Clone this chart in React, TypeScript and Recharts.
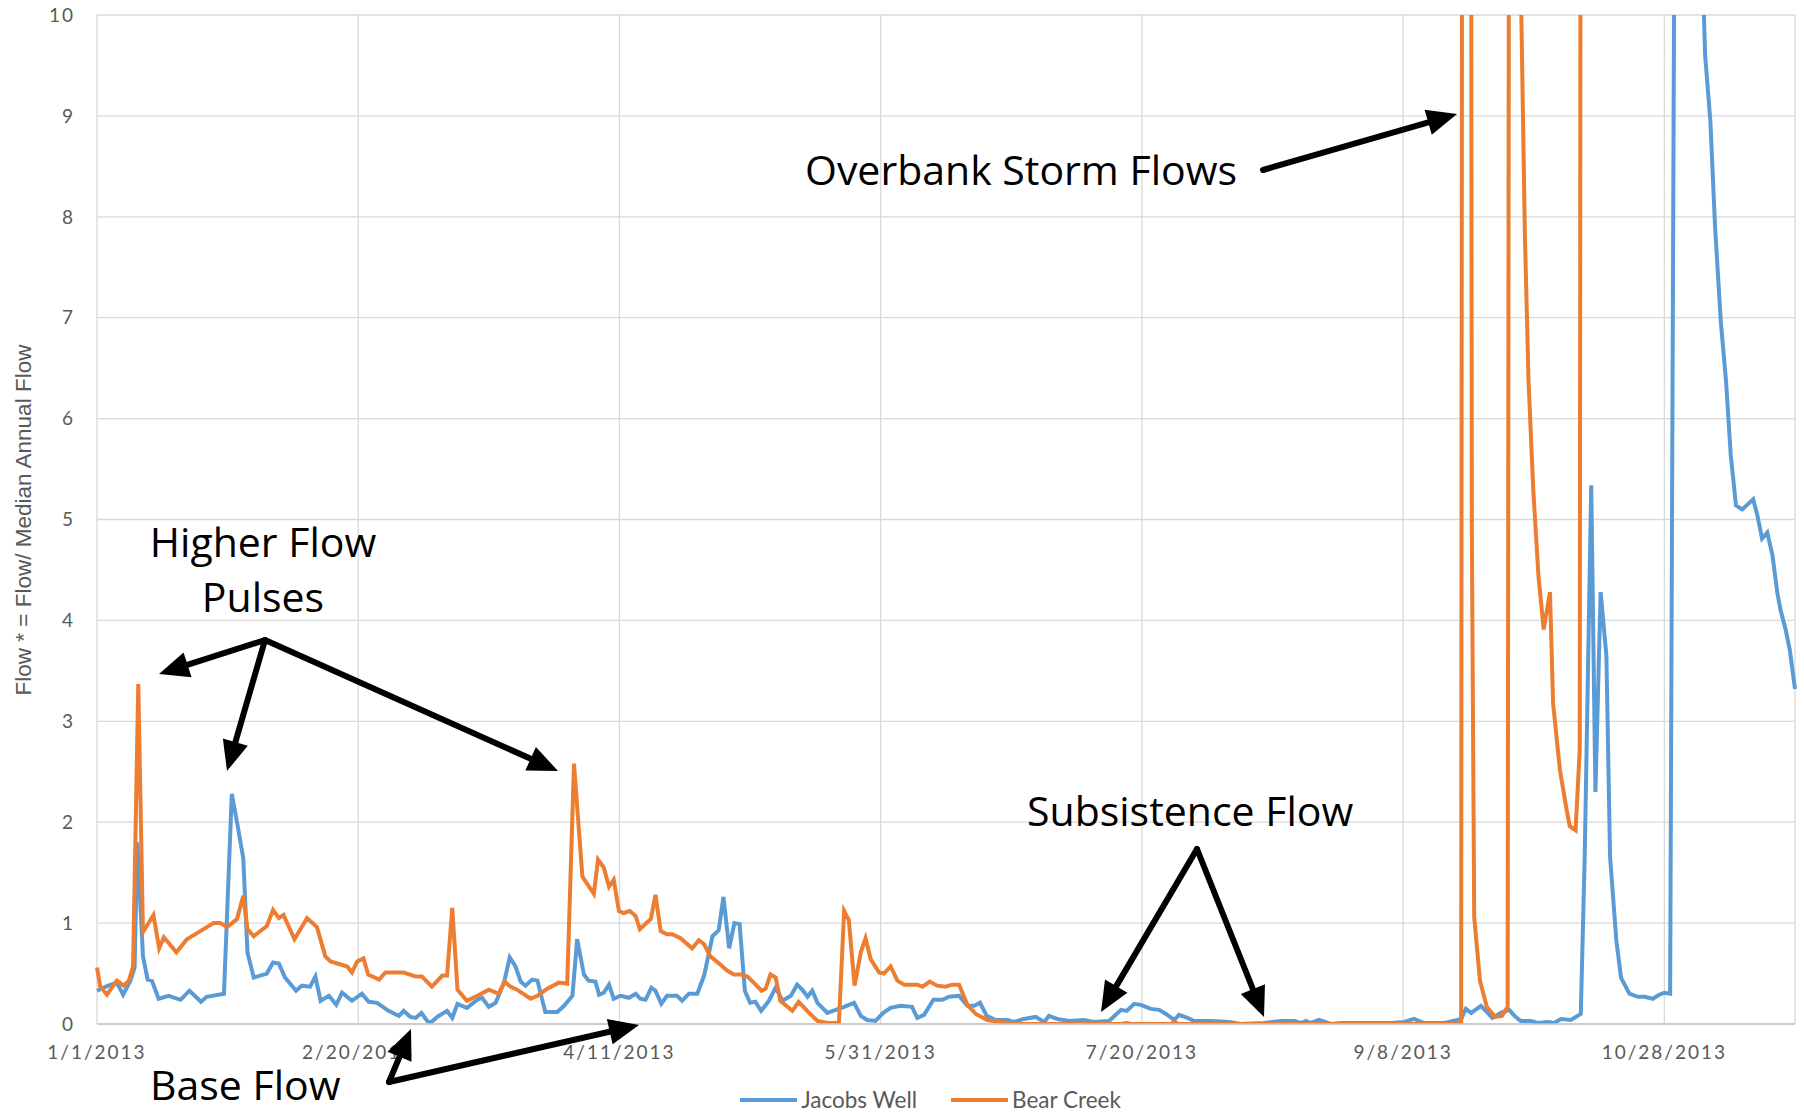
import React from "react";
import { CartesianGrid, Legend, Line, LineChart, XAxis, YAxis } from "recharts";

// Daily flow ratio (flow / median annual flow) for 2013, read off the
// original Excel chart. x is days since 1/1/2013.

const dayTicks = [0, 50, 100, 150, 200, 250, 300];
const dayTickLabels = ["1/1/2013", "2/20/2013", "4/11/2013", "5/31/2013", "7/20/2013", "9/8/2013", "10/28/2013"];
const flowTicks = [0, 1, 2, 3, 4, 5, 6, 7, 8, 9, 10];

const jacobsDays = [
    0, 1.9, 3.8, 5, 6.4, 7.2, 7.7, 8.8, 9.7, 10.5, 11.8, 13.7, 16, 17.7, 19.9, 21, 24.3, 25.8, 26.9, 28, 28.8,
    30, 32.5, 33.7, 34.8, 36, 38.1, 39.2, 40.8, 41.8, 42.8, 44.4, 45.8, 46.9, 48.8, 50.7, 52, 53.6, 55.8, 57.8,
    58.7, 60, 61, 62.1, 63.2, 63.8, 65.1, 67, 68, 69, 70.8, 72.8, 73.7, 75, 76.3, 77.9, 79, 80.1, 81.1, 82, 83.3,
    84.3, 85.8, 88.1, 89.4, 91, 91.9, 93.2, 94.1, 95.4, 96.1, 97, 98, 98.9, 100.2, 101.8, 103.1, 104, 105, 106.1,
    106.9, 108, 109.1, 111, 112, 113.3, 114.9, 116.2, 117.8, 119, 119.9, 121, 122, 123, 124, 125, 126, 127.1,
    128.6, 129.9, 131.2, 132.8, 134, 135, 136, 136.9, 137.9, 139.8, 141.4, 143, 144.9, 146.2, 147.4, 149, 150.5,
    151.9, 153.8, 156, 157, 158.3, 160.1, 161.8, 163.1, 165, 166.6, 167.9, 169, 170.3, 172, 174.3, 175.5, 177.4,
    179.7, 181.3, 182.2, 183.8, 186.1, 188.9, 190.8, 193.7, 196, 197.1, 198.5, 199.8, 201.7, 203.3, 204.6, 206.2,
    207.1, 208.7, 210, 213.2, 216.7, 218.9, 223.4, 226.6, 229.2, 230.4, 231.4, 232.3, 233.9, 236.2, 238.1, 247.7,
    250.2, 252.1, 254, 257.9, 260.4, 261.1, 262, 263, 264.9, 265.8, 267.1, 268.7, 270.3, 271.3, 272.5, 274.5,
    275.7, 277.7, 278.9, 280.2, 282.1, 284, 284.75, 286, 286.8, 287.8, 288.9, 289.6, 290.8, 291.7, 293.3, 294.9,
    296.2, 297.8, 299, 300, 301.1, 302, 303, 304, 305, 306, 307, 307.8, 308.8, 309.7, 310.8, 311.8, 312.7, 313.7,
    314.9, 317, 317.8, 318.7, 319.7, 320.7, 321.6, 322.2, 323.2, 324, 325,
];
const jacobsFlow = [
    0.33, 0.375, 0.41, 0.29, 0.43, 0.56, 1.8, 0.67, 0.44, 0.43, 0.25, 0.28, 0.24, 0.33, 0.22, 0.27, 0.3, 2.28, 1.97, 1.64, 0.71,
    0.46, 0.5, 0.61, 0.6, 0.46, 0.33, 0.38, 0.37, 0.47, 0.23, 0.28, 0.19, 0.31, 0.23, 0.3, 0.22, 0.21, 0.13, 0.08,
    0.13, 0.07, 0.06, 0.11, 0.03, 0.01, 0.07, 0.13, 0.06, 0.2, 0.16, 0.24, 0.26, 0.17, 0.21, 0.41, 0.66, 0.57, 0.42, 0.38, 0.44,
    0.43, 0.12, 0.12, 0.18, 0.28, 0.84, 0.49, 0.43, 0.42, 0.29, 0.31, 0.39, 0.25, 0.28, 0.26, 0.3, 0.25, 0.24, 0.36,
    0.33, 0.2, 0.28, 0.28, 0.23, 0.3, 0.3, 0.48, 0.87, 0.93, 1.26, 0.75, 1.0, 0.99, 0.33, 0.21, 0.22, 0.13,
    0.23, 0.36, 0.23, 0.28, 0.39, 0.34, 0.27, 0.33, 0.21, 0.11, 0.14, 0.17, 0.21, 0.08, 0.04, 0.03, 0.11,
    0.16, 0.18, 0.17, 0.06, 0.09, 0.24, 0.24, 0.27, 0.28, 0.18, 0.18, 0.21, 0.08, 0.04, 0.04, 0.02, 0.05,
    0.07, 0.02, 0.08, 0.05, 0.03, 0.04, 0.02, 0.03, 0.14, 0.13, 0.2, 0.19, 0.15, 0.14, 0.1, 0.04,
    0.09, 0.06, 0.03, 0.03, 0.02, 0, 0.01, 0.03, 0.03, 0.01, 0.03, 0.01, 0.04, 0, 0.01, 0.01,
    0.02, 0.05, 0.01, 0.01, 0.04, 0.05, 0.15, 0.11, 0.18, 0.13, 0.06, 0.11, 0.14, 0.08, 0.03, 0.03,
    0.01, 0.02, 0.01, 0.05, 0.04, 0.1, 1.66, 5.34, 2.3, 4.28, 3.65, 1.66, 0.83, 0.46, 0.3, 0.27,
    0.27, 0.25, 0.29, 0.31, 0.3, 12, 24, 21, 17, 14, 11, 9.6, 8.95, 7.9, 6.96, 6.37, 5.64, 5.14,
    5.1, 5.2, 5.04, 4.81, 4.87, 4.64, 4.28, 4.11, 3.91, 3.71, 3.32,
];

const bearDays = [
    0, 0.6, 1.9, 3.8, 5.1, 6.1, 6.9, 7.9, 8.8, 10.8, 11.9, 12.8, 15.2, 17.2, 20.4, 22.3, 23.6, 24.9, 26.8, 28,
    28.8, 30, 32.5, 33.7, 34.8, 35.7, 37.8, 40.2, 42.1, 43.7, 44.7, 47.9, 48.8, 49.8, 51, 51.9, 54, 55.2, 58.7,
    61, 62.2, 64.1, 66.1, 67, 68, 69, 70.8, 72.8, 75, 76.9, 78, 79.1, 80.4, 83, 84.3, 86.2, 88.4, 90, 91.3,
    92.9, 95.1, 95.9, 97, 98, 98.9, 99.9, 100.8, 102, 103.1, 103.9, 106, 106.9, 107.9, 109.1, 110.1, 111.7,
    113.9, 115.2, 116.2, 117.4, 119.3, 120.6, 121.9, 123.2, 124.5, 125.7, 127.2, 128, 128.9, 129.9, 130.8,
    133.1, 134.3, 136.3, 137.9, 139.8, 142, 143, 143.9, 145, 146.2, 147.1, 148.1, 149.7, 150.6, 151.9, 153.2,
    154.5, 157, 158, 159.4, 160.8, 162.4, 163.7, 165, 166.6, 168.2, 170.4, 173, 175.5, 196, 197, 198, 205.5,
    206.2, 207, 261.1, 262, 263.15, 263.6, 264.7, 266, 267.6, 268.9, 270, 271, 272, 273.3, 274, 274.9, 275.9,
    276.9, 278.1, 278.7, 280, 281.3, 281.9, 283, 283.8, 285, 290, 295, 300, 305, 310, 315, 320, 325,
];
const bearFlow = [
    0.56, 0.375, 0.29, 0.43, 0.38, 0.43, 0.57, 3.37, 0.91, 1.08, 0.75, 0.86, 0.71, 0.84, 0.94, 1.0, 1.0, 0.96, 1.04, 1.27,
    0.94, 0.87, 0.97, 1.13, 1.05, 1.08, 0.84, 1.05, 0.96, 0.67, 0.62, 0.57, 0.51, 0.62, 0.65, 0.49, 0.44, 0.51, 0.51,
    0.47, 0.47, 0.37, 0.48, 0.48, 1.15, 0.34, 0.23, 0.28, 0.34, 0.3, 0.42, 0.37, 0.34, 0.25, 0.28, 0.35, 0.41, 0.4, 2.58,
    1.46, 1.29, 1.63, 1.55, 1.36, 1.43, 1.12, 1.1, 1.12, 1.07, 0.94, 1.04, 1.28, 0.92, 0.89, 0.89, 0.85,
    0.75, 0.83, 0.79, 0.67, 0.59, 0.53, 0.49, 0.49, 0.47, 0.41, 0.33, 0.35, 0.49, 0.46, 0.23,
    0.13, 0.22, 0.11, 0.03, 0.01, 0.01, 1.12, 1.03, 0.38, 0.71, 0.85, 0.64, 0.51, 0.5, 0.57, 0.43,
    0.39, 0.39, 0.37, 0.42, 0.38, 0.37, 0.39, 0.39, 0.19, 0.1, 0.04, 0.02, 0, 0, 0.01, 0, 0,
    0.02, 0, 0, 60, 4.84, 1.06, 0.43, 0.17, 0.07, 0.08, 0.17, 45, 12, 7.82, 6.37, 5.3, 4.44,
    3.91, 4.28, 3.18, 2.52, 2.12, 1.96, 1.92, 2.72, 70, 55, 40, 60, 80, 50, 35, 28, 24,
];

const jacobsData = jacobsDays.map((day, i) => ({ day, flow: jacobsFlow[i] }));
const bearData = bearDays.map((day, i) => ({ day, flow: bearFlow[i] }));

const BLUE = "#5B9BD5";
const ORANGE = "#ED7D31";
const GREY_TEXT = "#595959";

const legendItems = [
    { name: "Jacobs Well", color: BLUE },
    { name: "Bear Creek", color: ORANGE },
];

function Arrow({ x1, y1, x2, y2 }: { x1: number; y1: number; x2: number; y2: number }) {
    const dx = x2 - x1;
    const dy = y2 - y1;
    const len = Math.hypot(dx, dy);
    const ux = dx / len;
    const uy = dy / len;
    const head = 30;
    const half = 13;
    const bx = x2 - ux * head;
    const by = y2 - uy * head;
    const pts = `${x2},${y2} ${bx - uy * half},${by + ux * half} ${bx + uy * half},${by - ux * half}`;
    return (
        <g>
            <line x1={x1} y1={y1} x2={bx + ux * 2} y2={by + uy * 2} stroke="#000" strokeWidth={6} strokeLinecap="round" />
            <polygon points={pts} fill="#000" />
        </g>
    );
}

// Legend drawn in series order (Recharts would otherwise sort it).
function FlowLegend() {
    return (
        <div
            style={{
                display: "flex",
                justifyContent: "center",
                alignItems: "center",
                height: 24,
                lineHeight: "24px",
                paddingLeft: 66,
                fontFamily: "Lato",
                fontSize: 22.5,
                color: GREY_TEXT,
            }}
        >
            {legendItems.map((p, i) => (
                <span key={p.name} style={{ display: "flex", alignItems: "center", marginLeft: i ? 34 : 0 }}>
                    <svg width={57} height={4}>
                        <line x1={0} y1={2} x2={57} y2={2} stroke={p.color} strokeWidth={4} />
                    </svg>
                    <span style={{ marginLeft: 4 }}>{p.name}</span>
                </span>
            ))}
        </div>
    );
}

const annotation = { fontFamily: "Open Sans", fontSize: 41, fill: "#000" } as const;

export default function App() {
    return (
        <div style={{ position: "relative", width: 1804, height: 1112, background: "#fff" }}>
            <style>{"body{margin:0}"}</style>
            <LineChart width={1804} height={1112} margin={{ top: 15, right: 9, bottom: 0, left: 0 }}>
                <CartesianGrid stroke="#d9d9d9" strokeWidth={1.3} />
                <XAxis
                    dataKey="day"
                    type="number"
                    domain={[0, 325]}
                    ticks={dayTicks}
                    tickFormatter={(v: number) => dayTickLabels[dayTicks.indexOf(v)]}
                    allowDuplicatedCategory={false}
                    height={64}
                    tickLine={false}
                    tickMargin={16}
                    stroke="#c4c4c4"
                    strokeWidth={1.5}
                    tick={{ fill: GREY_TEXT, fontSize: 19, fontFamily: "Lato", letterSpacing: 2 }}
                />
                <YAxis
                    type="number"
                    domain={[0, 10]}
                    ticks={flowTicks}
                    allowDataOverflow
                    width={97}
                    axisLine={false}
                    tickLine={false}
                    tickMargin={16}
                    tick={{ fill: GREY_TEXT, fontSize: 19, fontFamily: "Lato", letterSpacing: 2 }}
                />
                <Legend verticalAlign="bottom" height={24} content={<FlowLegend />} />
                <Line
                    data={jacobsData}
                    dataKey="flow"
                    name="Jacobs Well"
                    stroke={BLUE}
                    strokeWidth={4}
                    dot={false}
                    activeDot={false}
                    type="linear"
                    isAnimationActive={false}
                />
                <Line
                    data={bearData}
                    dataKey="flow"
                    name="Bear Creek"
                    stroke={ORANGE}
                    strokeWidth={4}
                    dot={false}
                    activeDot={false}
                    type="linear"
                    isAnimationActive={false}
                />
            </LineChart>
            <svg
                width={1804}
                height={1112}
                style={{ position: "absolute", left: 0, top: 0, pointerEvents: "none" }}
            >
                <text
                    x={23}
                    y={520}
                    transform="rotate(-90 23 520)"
                    textAnchor="middle"
                    dominantBaseline="central"
                    fontFamily="Liberation Sans"
                    fontSize={22.5}
                    fill={GREY_TEXT}
                >
                    Flow * = Flow/ Median Annual Flow
                </text>

                <text x={263} y={557} textAnchor="middle" {...annotation}>Higher Flow</text>
                <text x={263} y={612} textAnchor="middle" {...annotation}>Pulses</text>
                <Arrow x1={265} y1={640} x2={159} y2={674} />
                <Arrow x1={265} y1={640} x2={227} y2={771} />
                <Arrow x1={265} y1={640} x2={558} y2={771} />

                <text x={805} y={185} {...annotation}>Overbank Storm Flows</text>
                <Arrow x1={1263} y1={170} x2={1457} y2={114} />

                <text x={1027} y={826} {...annotation}>Subsistence Flow</text>
                <Arrow x1={1197} y1={849} x2={1101} y2={1012} />
                <Arrow x1={1197} y1={849} x2={1264} y2={1017} />

                <text x={150} y={1100} {...annotation}>Base Flow</text>
                <Arrow x1={389} y1={1082} x2={411} y2={1029} />
                <Arrow x1={389} y1={1082} x2={639} y2={1025} />
            </svg>
        </div>
    );
}
